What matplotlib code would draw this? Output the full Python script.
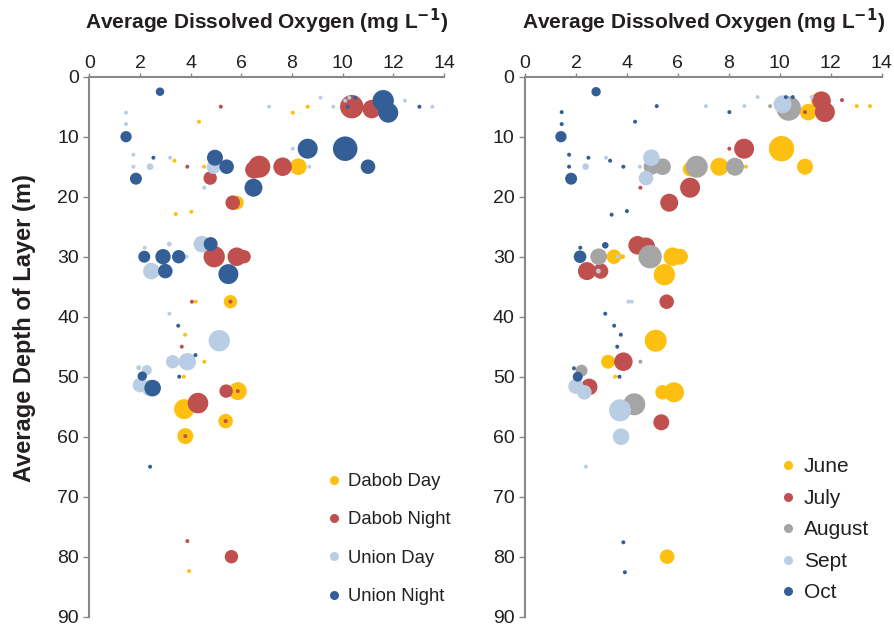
import numpy as np
import matplotlib
matplotlib.use('Agg')
from matplotlib import pyplot as plt
from matplotlib.lines import Line2D

plt.rcParams['font.family'] = ['Liberation Sans', 'DejaVu Sans']

#left panel: site / time of day
dd_do = [4.33, 8.03, 8.62, 8.25, 4.53, 3.36, 5.82, 3.41, 4.03, 4.2, 5.57, 3.78, 4.54, 3.73, 3.74, 5.86, 5.38, 3.79, 3.94]
dd_depth = [7.5, 6, 5, 15, 15, 14, 21, 22.9, 22.5, 37.5, 37.5, 43, 47.5, 50, 55.4, 52.4, 57.4, 59.9, 82.4]
dd_dens = [4, 4, 4, 69, 4, 4, 49, 4, 4, 4, 45, 4, 4, 4, 100, 81, 53, 64, 4]

dn_do = [5.19, 10.36, 11.15, 7.63, 6.71, 6.5, 4.77, 5.66, 3.87, 4.93, 5.82, 6.11, 4.05, 5.57, 3.65, 4.29, 5.4, 5.86, 5.38, 3.79, 3.87, 5.61]
dn_depth = [5, 5, 5.4, 15, 15, 15.5, 16.9, 21, 15, 30, 30, 30, 37.5, 37.5, 45, 54.4, 52.4, 52.4, 57.4, 59.9, 77.4, 80]
dn_dens = [4, 137, 86, 86, 121, 78, 45, 53, 4, 114, 86, 45, 4, 4, 4, 106, 45, 4, 4, 4, 4, 45]

ud_do = [1.45, 1.45, 7.1, 9.13, 9.63, 10.1, 10.26, 12.46, 13.54, 8.03, 8.68, 4.9, 4.54, 3.19, 2.4, 1.74, 1.74, 2.19, 3.16, 3.84,
         2.45, 4.44, 3.16, 5.13, 3.29, 3.87, 1.95, 2.27, 2.0, 2.4]
ud_depth = [6, 7.9, 5, 3.5, 5, 4, 3.5, 4, 5, 12, 15, 15.1, 18.5, 13.5, 15, 13, 15, 28.5, 27.9, 30,
            32.4, 27.9, 39.5, 44, 47.5, 47.5, 48.5, 48.9, 51.4, 51.9]
ud_dens = [4, 4, 4, 4, 4, 4, 4, 4, 4, 4, 4, 45, 4, 4, 11, 4, 4, 4, 6, 4,
           69, 69, 4, 114, 45, 76, 6, 25, 53, 69]

un_do = [2.79, 1.45, 10.5, 10.2, 11.6, 11.8, 13.03, 8.62, 10.1, 11.0, 5.42, 4.96, 6.48, 2.53, 1.84, 2.17, 2.91, 3.53, 3.0,
         4.79, 5.49, 3.51, 4.19, 3.55, 2.09, 2.5, 2.4]
un_depth = [2.5, 10, 3.5, 5, 4, 6, 5, 12, 12, 15, 15, 13.5, 18.5, 13.5, 17, 30, 30, 30, 32.4,
            27.9, 32.9, 41.5, 46.4, 50, 49.9, 51.9, 65]
un_dens = [18, 32, 4, 4, 114, 100, 4, 100, 151, 53, 53, 64, 81, 4, 36, 36, 59, 45, 53,
           49, 100, 4, 4, 4, 22, 69, 4]

#right panel: month
jun_do = [11.12, 11.58, 13.02, 13.54, 6.48, 7.63, 8.67, 10.07, 10.99, 3.49, 3.83, 5.8, 6.08, 5.47, 5.13, 3.26, 3.54, 5.4, 5.85, 5.58]
jun_depth = [5.9, 4, 4.9, 4.9, 15.4, 15, 15, 12, 15, 30, 30, 30, 30, 33, 44, 47.5, 50, 52.6, 52.6, 80]
jun_dens = [69, 81, 4, 4, 53, 81, 4, 161, 64, 53, 6, 86, 64, 114, 121, 49, 4, 53, 100, 53]

jul_do = [10.99, 11.64, 11.77, 12.44, 4.53, 6.48, 5.66, 8.02, 8.6, 2.43, 2.97, 4.42, 4.75, 5.56, 3.86, 2.52, 5.35]
jul_depth = [5.9, 4, 5.9, 3.9, 18.5, 18.5, 21, 12, 12, 32.4, 32.4, 28.1, 28.3, 37.5, 47.5, 51.7, 57.6]
jul_dens = [4, 86, 100, 4, 4, 100, 81, 4, 100, 81, 59, 86, 81, 53, 86, 69, 64]

aug_do = [9.62, 10.35, 4.97, 5.4, 6.74, 8.24, 2.89, 4.91, 4.53, 2.22, 4.29]
aug_depth = [4.9, 5.3, 15, 15, 15, 15, 30, 30, 47.5, 49, 54.6]
aug_dens = [4, 151, 64, 69, 121, 81, 69, 137, 4, 36, 121]

sep_do = [7.1, 8.61, 9.13, 10.11, 11.25, 2.38, 3.18, 4.51, 4.96, 4.75, 3.65, 2.88, 4.06, 4.19, 2.0, 2.33, 3.73, 3.77, 2.39]
sep_depth = [4.9, 4.9, 3.4, 4.6, 3.4, 15, 13.5, 15, 13.5, 16.9, 30, 32.4, 37.5, 37.5, 51.6, 52.6, 55.6, 60, 65]
sep_dens = [4, 4, 4, 81, 4, 11, 4, 4, 69, 53, 4, 6, 4, 4, 59, 53, 121, 69, 4]

oct_do = [2.79, 1.44, 1.44, 1.41, 5.17, 4.32, 8.02, 10.24, 10.51, 1.73, 1.73, 1.81, 2.49, 3.34, 3.86, 3.4, 4.0, 2.17, 2.16,
          3.15, 3.15, 3.5, 3.76, 3.62, 1.92, 2.07, 3.71, 3.86, 3.92]
oct_depth = [2.5, 5.9, 7.9, 10, 4.9, 7.5, 5.9, 3.4, 3.4, 13, 15, 17, 13.5, 14, 15, 23, 22.4, 28.5, 30,
             28.1, 39.5, 41.5, 43, 45, 48.6, 50, 50, 77.6, 82.6]
oct_dens = [22, 4, 4, 32, 4, 4, 4, 4, 4, 4, 4, 36, 4, 4, 4, 4, 4, 4, 40,
            11, 4, 4, 4, 4, 4, 25, 4, 4, 4]

yellow = '#FDC010'
red = '#C0504D'
grey = '#A5A5A5'
lblue = '#B9CDE5'
dblue = '#335F96'
txt = '#231F20'
axcol = '#888888'

left_series = [('Dabob Day', dd_do, dd_depth, dd_dens, yellow),
               ('Dabob Night', dn_do, dn_depth, dn_dens, red),
               ('Union Day', ud_do, ud_depth, ud_dens, lblue),
               ('Union Night', un_do, un_depth, un_dens, dblue)]
right_series = [('June', jun_do, jun_depth, jun_dens, yellow),
                ('July', jul_do, jul_depth, jul_dens, red),
                ('August', aug_do, aug_depth, aug_dens, grey),
                ('Sept', sep_do, sep_depth, sep_dens, lblue),
                ('Oct', oct_do, oct_depth, oct_dens, dblue)]

fig = plt.figure(figsize=(8.94, 6.27), dpi=100)
ax1 = fig.add_axes([89.3/894, 10.3/627, 354.7/894, 540/627])
ax2 = fig.add_axes([525/894, 10.3/627, 356.7/894, 540/627])


def style_axes(ax):
    ax.set_xlim(0, 14)
    ax.set_ylim(90, 0)
    ax.set_xticks(np.arange(0, 15, 2))
    ax.set_yticks(np.arange(0, 91, 10))
    ax.xaxis.tick_top()
    ax.xaxis.set_label_position('top')
    for s in ['right', 'bottom']:
        ax.spines[s].set_visible(False)
    for s in ['left', 'top']:
        ax.spines[s].set_color(axcol)
        ax.spines[s].set_linewidth(1.5)
    ax.tick_params(axis='x', direction='out', length=3, width=1, color=axcol,
                   labelsize=14, labelcolor=txt, pad=0.5)
    ax.tick_params(axis='y', direction='out', length=4.5, width=1, color=axcol,
                   labelsize=14, labelcolor=txt, pad=3)
    ax.set_xlabel('Average Dissolved Oxygen (mg L$^{\\mathbf{-1}}$)', fontsize=15,
                  fontweight='bold', color=txt, labelpad=18.5)


def draw(ax, series):
    handles = []
    for i, (name, x, y, d, c) in enumerate(series):
        ax.scatter(x, y, s=np.array(d) * 2.07, color=c, linewidths=0, zorder=3 + i, clip_on=False)
        handles.append(Line2D([], [], marker='o', linestyle='none', markersize=6.5,
                              markerfacecolor=c, markeredgewidth=0, label=name))
    return handles


h1 = draw(ax1, left_series)
h2 = draw(ax2, right_series)
style_axes(ax1)
style_axes(ax2)

ax1.set_ylabel('Average Depth of Layer (m)', fontsize=17, fontweight='bold', color=txt)
ax1.yaxis.set_label_coords(-0.15, 0.535)

ax1.legend(handles=h1, loc='upper left', bbox_to_anchor=(0.668, 0.266), frameon=False,
           fontsize=13.3, labelspacing=1.16, handlelength=0.8, handletextpad=0.4,
           borderpad=0, borderaxespad=0, labelcolor=txt)
ax2.legend(handles=h2, loc='upper left', bbox_to_anchor=(0.715, 0.295), frameon=False,
           fontsize=15, labelspacing=0.6, handlelength=0.8, handletextpad=0.35,
           borderpad=0, borderaxespad=0, labelcolor=txt)

plt.savefig('out.png', dpi=100)
